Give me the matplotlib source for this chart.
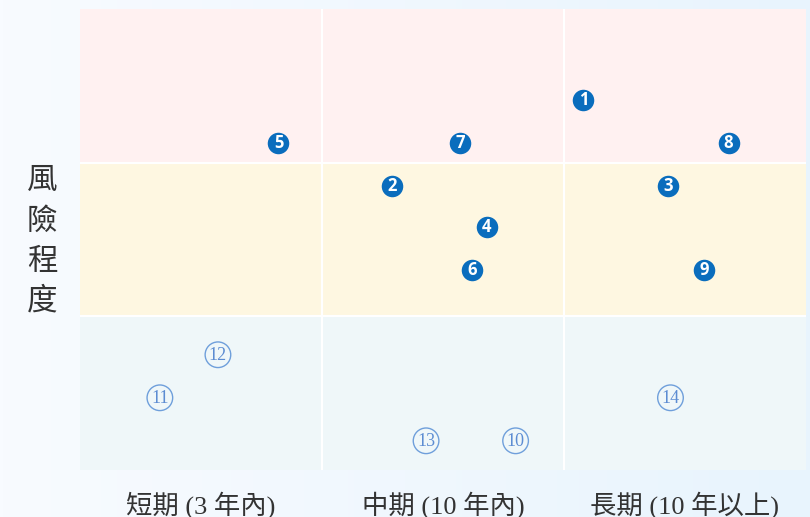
import numpy as np
import matplotlib
matplotlib.use('Agg')
import matplotlib.pyplot as plt
from matplotlib.colors import LinearSegmentedColormap

# columns: horizon, rows: risk level (0 = low, 3 = high)
periods = ['短期 (3 年內)', '中期 (10 年內)', '長期 (10 年以上)']
ylabel_text = '風險程度'

# filled markers (1-9)
main_ids = [1, 2, 3, 4, 5, 6, 7, 8, 9]
main_x = [2.08, 1.29, 2.43, 1.68, 0.82, 1.62, 1.57, 2.68, 2.58]
main_y = [2.41, 1.85, 1.85, 1.58, 2.13, 1.30, 2.13, 2.13, 1.30]

# outlined markers (10-14)
low_ids = [10, 11, 12, 13, 14]
low_x = [1.80, 0.33, 0.57, 1.43, 2.44]
low_y = [0.19, 0.47, 0.75, 0.19, 0.47]

band_colors = ['#eff7f9', '#fef7e1', '#fff1f1']   # bottom, middle, top
fill_blue = '#0a6dbd'
ring_blue = '#6f9fdb'

fig = plt.figure(figsize=(8.1, 5.17), dpi=100)

# soft background gradient
bg = fig.add_axes([0, 0, 1, 1])
grad = np.linspace(0, 1, 256).reshape(1, -1)
cmap = LinearSegmentedColormap.from_list('bg', ['#f8fbff', '#e8f4fd'])
bg.imshow(grad, aspect='auto', cmap=cmap, extent=[0, 1, 0, 1])
bg.axis('off')

ax = fig.add_axes([80 / 810, 47 / 517, 726 / 810, 461 / 517])
ax.set_xlim(0, 3)
ax.set_ylim(0, 3)

for i, c in enumerate(band_colors):
    ax.axhspan(i, i + 1, color=c, lw=0, zorder=0)
for v in [1, 2]:
    ax.axvline(v, color='white', lw=1.5, zorder=1)
    ax.axhline(v, color='white', lw=1.5, zorder=1)

ax.scatter(main_x, main_y, s=240, color=fill_blue, zorder=3, lw=0)
for i, x, y in zip(main_ids, main_x, main_y):
    ax.text(x, y, str(i), color='white', fontsize=12, fontweight='bold',
            ha='center', va='center', zorder=4, family='Open Sans')

ax.scatter(low_x, low_y, s=340, facecolor='none', edgecolor=ring_blue, lw=1, zorder=3)
for i, x, y in zip(low_ids, low_x, low_y):
    ax.text(x, y - 0.005, str(i), color='#5c8cd2', fontsize=13,
            ha='center', va='center', zorder=4, family='Liberation Serif')

for s in ax.spines.values():
    s.set_visible(False)
ax.set_yticks([])
ax.set_xticks([0.5, 1.5, 2.5])
ax.set_xticklabels(periods, fontsize=19, color='#333333',
                   family=['Liberation Serif', 'Noto Sans CJK TC'])
ax.tick_params(axis='x', length=0, pad=15)

fig.text(42 / 810, 1 - 241 / 517, '\n'.join(ylabel_text), fontsize=22,
         ha='center', va='center', linespacing=1.38, color='#333333',
         family=['Noto Sans CJK TC', 'DejaVu Sans'])

fig.savefig('out.png', dpi=100)
